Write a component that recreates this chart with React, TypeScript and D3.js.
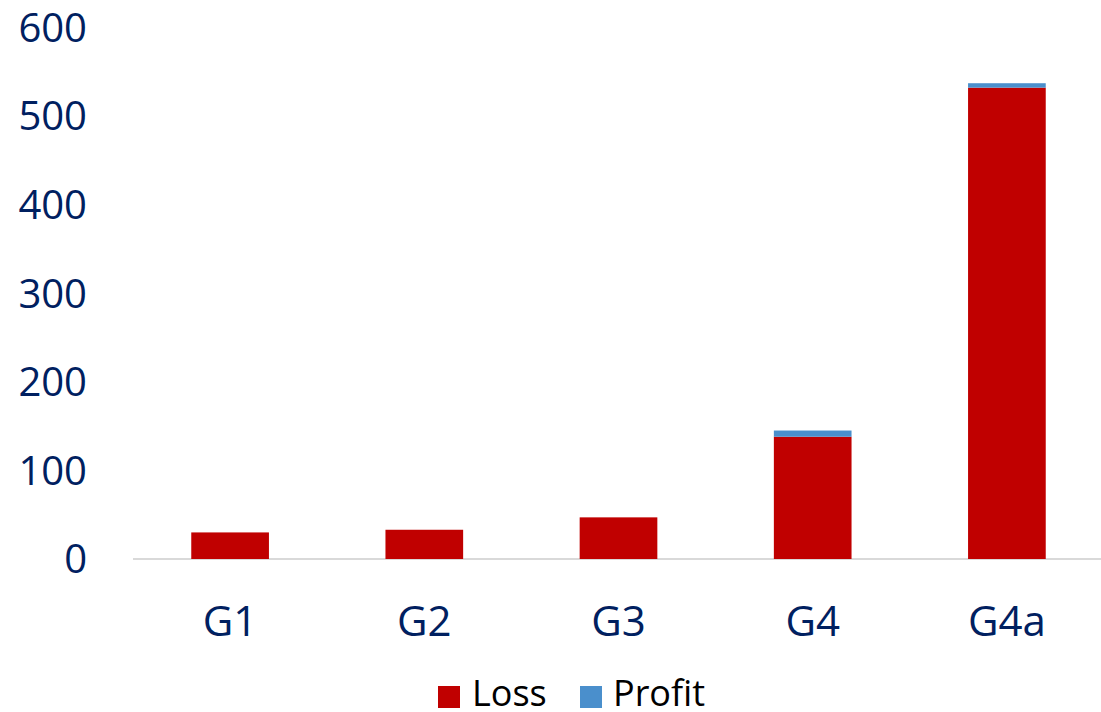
import React from "react";
import * as d3 from "d3";

const categories = ["G1", "G2", "G3", "G4", "G4a"];
const lossValues = [30, 33, 47, 138, 532];
const profitValues = [0, 0, 0, 7, 5];
const yTicks = [0, 100, 200, 300, 400, 500, 600];
const seriesNames = ["Loss", "Profit"];
const seriesColors = ["#C00000", "#4A8FCC"];

const W = 1101;
const H = 712;

export default function App() {
  const x = d3.scaleBand<string>().domain(categories).range([133, 1104]).paddingInner(0.6).paddingOuter(0.3);
  const y = d3.scaleLinear().domain([0, 600]).range([559, 27.4]);
  const rows = categories.map((c, i) => ({ cat: c, Loss: lossValues[i], Profit: profitValues[i] }));
  const stack = d3.stack<any>().keys(seriesNames)(rows);
  const font = "'Open Sans', sans-serif";
  return (
    <svg width={W} height={H} style={{ position: "absolute", left: 0, top: 0, background: "#fff" }}>
      <line x1={133} x2={1101} y1={y(0)} y2={y(0)} stroke="#D9D9D9" strokeWidth={2} />
      {stack.map((s, si) =>
        s.map((d, i) => {
          const h = y(d[0]) - y(d[1]);
          if (h <= 0) return null;
          return (
            <rect
              key={`${si}-${i}`}
              x={x(categories[i])}
              width={x.bandwidth()}
              y={y(d[1])}
              height={h}
              fill={seriesColors[si]}
            />
          );
        })
      )}
      {yTicks.map((t) => (
        <text key={t} x={87} y={y(t)} dy="0.36em" textAnchor="end" fontFamily={font} fontSize={40} fill="#002060">
          {t}
        </text>
      ))}
      {categories.map((c) => (
        <text key={c} x={(x(c) as number) + x.bandwidth() / 2} y={636} textAnchor="middle" fontFamily={font} fontSize={42} fill="#002060">
          {c}
        </text>
      ))}
      <rect x={438} y={686} width={22} height={22} fill={seriesColors[0]} />
      <text x={472} y={706} fontFamily={font} fontSize={36} fill="#000">{seriesNames[0]}</text>
      <rect x={580} y={686} width={22} height={22} fill={seriesColors[1]} />
      <text x={613} y={706} fontFamily={font} fontSize={36} fill="#000">{seriesNames[1]}</text>
    </svg>
  );
}
